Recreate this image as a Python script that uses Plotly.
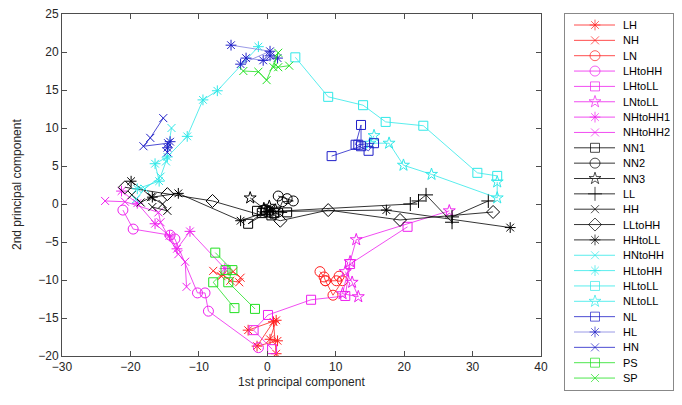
import plotly.graph_objects as go

# ---------------- data ----------------
series_names = ["LH", "NH", "LN", "LHtoHH", "LHtoLL", "LNtoLL", "NHtoHH1", "NHtoHH2",
                "NN1", "NN2", "NN3", "LL", "HH", "LLtoHH", "HHtoLL",
                "HNtoHH", "HLtoHH", "HLtoLL", "NLtoLL", "NL", "HL", "HN", "PS", "SP"]

LH_x = [-2.8, 1.3, 0.4, 1.5, -1.5, 0.9, 1.3]
LH_y = [-16.6, -15.3, -17.8, -18.0, -18.7, -15.5, -19.7]
NH_x = [-7.9, -6.7, -5.0, -3.9, -4.1, -5.4, -6.5]
NH_y = [-8.8, -9.5, -8.9, -9.7, -10.3, -10.1, -9.3]
LN_x = [7.7, 8.3, 8.5, 10.1, 10.5, 11.0, 9.6, 8.5]
LN_y = [-8.9, -9.6, -10.1, -10.1, -9.5, -10.1, -12.0, -10.1]
LHtoHH_x = [-21.1, -19.6, -14.2, -13.5, -10.2, -9.1, -8.6, -1.3]
LHtoHH_y = [-0.8, -3.3, -4.1, -4.6, -11.7, -11.7, -14.1, -18.9]
LHtoLL_x = [0.7, -2.0, 0.1, 6.4, 11.4, 12.1, 20.5]
LHtoLL_y = [-19.1, -16.6, -14.6, -12.6, -12.1, -7.9, -3.0]
LNtoLL_x = [11.4, 12.4, 13.3, 11.0, 12.1, 13.0, 26.6]
LNtoLL_y = [-8.9, -10.3, -12.2, -11.8, -7.6, -4.7, -0.9]
NHtoHH1_x = [-21.3, -19.0, -16.4, -14.3, -13.2, -11.3, -6.2]
NHtoHH1_y = [1.7, 0.1, -2.6, -4.2, -5.9, -3.6, -8.5]
NHtoHH2_x = [-23.7, -20.8, -15.9, -15.6, -13.0, -12.0, -11.8]
NHtoHH2_y = [0.4, 0.3, -1.1, -2.4, -6.6, -7.6, -10.9]
NN1_x = [-1.5, -0.8, -2.8, 0.2, 1.0, 2.9, -0.3, 0.6]
NN1_y = [-0.9, -1.2, -2.6, -1.0, -1.2, -1.1, -0.8, -1.5]
NN2_x = [1.6, 2.9, 3.8, 2.2, 1.6]
NN2_y = [1.05, 0.7, 0.4, 0.3, -1.05]
NN3_x = [-2.5, -0.5, 0.3, 1.2]
NN3_y = [0.8, -0.6, -0.3, -0.8]
LL_x = [0.5, 20.9, 22.1, 23.2, 27.0, 27.0, 32.3]
LL_y = [-1.0, 0.0, 0.4, 1.2, -2.4, -1.7, 0.4]
HH_x = [-19.8, -18.5, -17.0, -15.3, -14.6, -16.8]
HH_y = [1.2, 0.2, 0.9, 0.0, -0.9, -0.4]
LLtoHH_x = [-20.8, -14.6, -8.0, 1.9, 8.9, 19.4, 33.0]
LLtoHH_y = [2.2, 1.3, 0.4, -2.2, -0.8, -2.1, -1.05]
HHtoLL_x = [-19.9, -16.8, -13.0, -3.9, 0.0, 17.4, 35.5]
HHtoLL_y = [3.0, 0.9, 1.4, -2.2, -1.0, -0.8, -3.1]
HNtoHH_x = [-19.2, -17.9, -15.6, -14.8, -14.0]
HNtoHH_y = [0.6, 2.0, 3.6, 5.6, 10.0]
HLtoHH_x = [-19.0, -15.8, -16.4, -14.6, -11.7, -9.4, -7.3, -1.3]
HLtoHH_y = [2.0, 3.0, 5.3, 6.2, 8.9, 13.7, 14.9, 20.7]
HLtoLL_x = [4.1, 8.9, 14.0, 17.3, 22.8, 30.7, 33.6]
HLtoLL_y = [19.3, 14.1, 13.0, 10.8, 10.3, 4.1, 3.7]
NLtoLL_x = [15.6, 15.0, 17.8, 19.9, 24.0, 33.6, 33.6]
NLtoLL_y = [9.0, 8.0, 8.0, 5.1, 3.9, 0.8, 2.9]
NL_x = [9.4, 13.7, 13.7, 12.9, 14.8, 15.6, 13.3]
NL_y = [6.3, 7.6, 10.4, 7.8, 7.0, 8.0, 7.8]
HL_x = [-5.3, 0.4, -3.9, -3.1, -0.6, 1.5, 0.4, None, -14.2, -14.6]
HL_y = [20.9, 20.1, 18.4, 19.2, 18.9, 19.2, 19.5, None, 8.2, 7.4]
HN_x = [-15.2, -17.1, -18.1, -14.5, -14.6]
HN_y = [11.3, 8.7, 7.6, 8.0, 6.8]
PS_x = [-7.6, -5.1, -5.7, -1.8, None, -6.1, -7.9, -4.8]
PS_y = [-6.4, -8.7, -10.3, -13.8, None, -8.7, -10.3, -13.7]
SP_x = [-3.5, -1.3, -0.1, 1.6, 0.9, 1.6, 3.2]
SP_y = [17.5, 17.4, 16.3, 19.9, 18.0, 18.0, 18.2]

x_ticks = [-30, -20, -10, 0, 10, 20, 30, 40]
y_ticks = [-20, -15, -10, -5, 0, 5, 10, 15, 20, 25]

data = {n: (globals()[n + "_x"], globals()[n + "_y"]) for n in series_names}

# ---------------- styles ----------------
RED, MAG, BLK, CYA, BLU, GRN = "#ff2020", "#ee20ee", "#000000", "#30e8e8", "#2020c8", "#20e020"
HL_LINE = "#8080e0"
styles = {
    "LH": (RED, "asterisk-open", 9), "NH": (RED, "x-thin-open", 8), "LN": (RED, "circle-open", 10),
    "LHtoHH": (MAG, "circle-open", 10), "LHtoLL": (MAG, "square-open", 9), "LNtoLL": (MAG, "star-open", 9),
    "NHtoHH1": (MAG, "asterisk-open", 9), "NHtoHH2": (MAG, "x-thin-open", 8),
    "NN1": (BLK, "square-open", 9), "NN2": (BLK, "circle-open", 10), "NN3": (BLK, "star-open", 9),
    "LL": (BLK, "cross-thin-open", 10), "HH": (BLK, "x-thin-open", 8),
    "LLtoHH": (BLK, "diamond-open", 10), "HHtoLL": (BLK, "asterisk-open", 9),
    "HNtoHH": (CYA, "x-thin-open", 8), "HLtoHH": (CYA, "asterisk-open", 9),
    "HLtoLL": (CYA, "square-open", 9), "NLtoLL": (CYA, "star-open", 9),
    "NL": (BLU, "square-open", 9), "HL": (BLU, "asterisk-open", 9), "HN": (BLU, "x-thin-open", 8),
    "PS": (GRN, "square-open", 9), "SP": (GRN, "x-thin-open", 8),
}
line_colors = {"HL": HL_LINE}

FONT = "Liberation Sans, Arial, Helvetica, sans-serif"
AX = "#4d4d4d"

fig = go.Figure()
for n in series_names:
    c, sym, sz = styles[n]
    lc = line_colors.get(n, c)
    x, y = data[n]
    fig.add_trace(go.Scatter(
        x=x, y=y, mode="lines+markers", name=n, showlegend=False,
        line=dict(color=lc, width=0.8),
        marker=dict(symbol=sym, size=sz, color=c, line=dict(width=1, color=c)),
        xaxis="x", yaxis="y", connectgaps=False, hoverinfo="skip"))

# ---------------- hand-drawn legend (separate axes) ----------------
W, H = 682, 405
ml, mr, mt, mb = 62, 9, 14, 15
pw, ph = W - ml - mr, H - mt - mb
main_right, main_bottom = 541, 356
leg_left = 565
annotations = []
for i, n in enumerate(series_names):
    c, sym, sz = styles[n]
    lc = line_colors.get(n, c)
    yy = 25 + i * 15.35 - mt
    fig.add_trace(go.Scatter(
        x=[9, 30, 50], y=[yy, yy, yy], mode="lines+markers", showlegend=False,
        line=dict(color=lc, width=0.8),
        marker=dict(symbol=sym, size=[0, sz, 0], color=c, line=dict(width=1, color=c)),
        xaxis="x2", yaxis="y2", hoverinfo="skip"))
    annotations.append(dict(x=56, y=yy, xref="x2", yref="y2", text=n, showarrow=False,
                            xanchor="left", yanchor="middle",
                            font=dict(family=FONT, size=11, color="#000000")))

annotations.append(dict(x=(301.5 - ml) / pw, y=(H - mb - 382) / ph, xref="paper", yref="paper",
                        text="1st principal component", showarrow=False,
                        xanchor="center", yanchor="middle",
                        font=dict(family=FONT, size=12, color="#262626")))
annotations.append(dict(x=(17 - ml) / pw, y=(H - mb - 185) / ph, xref="paper", yref="paper",
                        text="2nd principal component", showarrow=False, textangle=-90,
                        xanchor="center", yanchor="middle",
                        font=dict(family=FONT, size=12, color="#262626")))

fig.update_layout(
    width=W, height=H,
    margin=dict(l=ml, r=mr, t=mt, b=mb, autoexpand=False),
    paper_bgcolor="white", plot_bgcolor="white",
    font=dict(family=FONT, size=12, color="#262626"),
    hovermode=False,
    xaxis=dict(domain=[0, (main_right - ml) / pw], range=[-30, 40], tickvals=x_ticks,
               showgrid=False, zeroline=False, showline=True, linecolor=AX, linewidth=1,
               mirror="ticks", ticks="inside", ticklen=5, tickcolor=AX,
               tickfont=dict(family=FONT, size=12, color="#262626"), automargin=False),
    yaxis=dict(domain=[(H - mb - main_bottom) / ph, 1], range=[-20, 25], tickvals=y_ticks,
               showgrid=False, zeroline=False, showline=True, linecolor=AX, linewidth=1,
               mirror="ticks", ticks="inside", ticklen=5, tickcolor=AX,
               tickfont=dict(family=FONT, size=12, color="#262626"), automargin=False),
    xaxis2=dict(domain=[(leg_left - ml) / pw, 1], range=[0, W - mr - leg_left], anchor="y2",
                showgrid=False, zeroline=False, showticklabels=False, ticks="",
                showline=True, mirror=True, linecolor="#888888", linewidth=1, fixedrange=True),
    yaxis2=dict(domain=[0, 1], range=[ph, 0], anchor="x2",
                showgrid=False, zeroline=False, showticklabels=False, ticks="",
                showline=True, mirror=True, linecolor="#888888", linewidth=1, fixedrange=True),
    annotations=annotations,
)

fig.write_html("out.html",
               config={"displayModeBar": False, "staticPlot": True},
               post_script="document.body.style.margin='0';document.body.style.overflow='hidden';")
